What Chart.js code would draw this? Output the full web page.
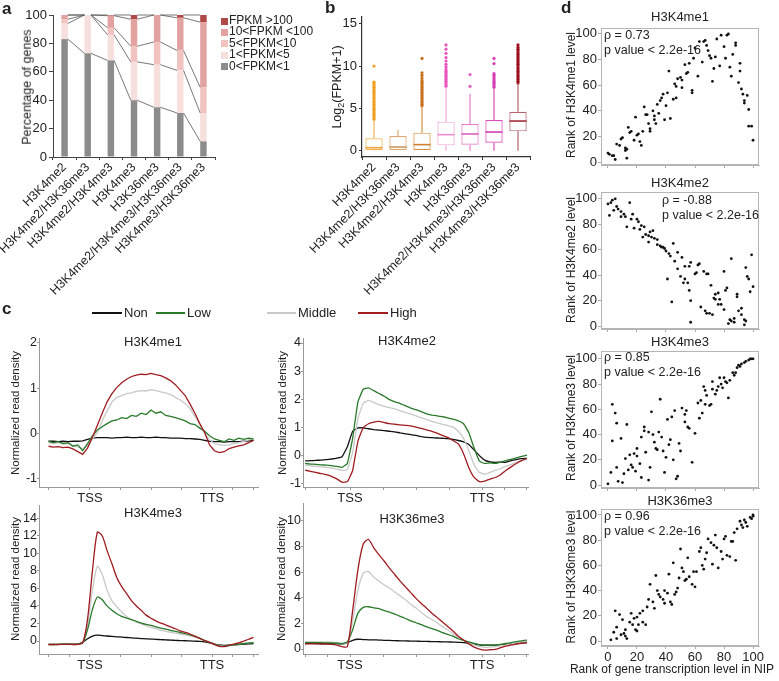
<!DOCTYPE html>
<html>
<head>
<meta charset="utf-8">
<script src="https://cdn.jsdelivr.net/npm/chart.js@4.4.0/dist/chart.umd.min.js"></script>
<style>
  html, body { margin: 0; padding: 0; background: #fff; }
  body { position: relative; width: 779px; height: 681px; overflow: hidden;
         font-family: "Liberation Sans", Arial, sans-serif; color: #222; }
  canvas { position: absolute; }
  .t { position: absolute; white-space: nowrap; line-height: 1.15; }
  .sw { position: absolute; }
</style>
</head>
<body>
<script>
// ---------- panel a : stacked percentage bars ----------
const aCategories = ['H3K4me2', 'H3K4me2/H3K36me3', 'H3K4me2/H3K4me3', 'H3K4me3', 'H3K36me3', 'H3K4me2/H3K4me3/H3K36me3', 'H3K4me3/H3K36me3'];
const aFpkm0to1 = [83, 73, 68, 40, 35, 31, 11];
const aFpkm1to5 = [11, 27, 18, 27, 30, 30, 20];
const aFpkm5to10 = [3, 0, 5, 11, 16, 14, 18];
const aFpkm10to100 = [3, 0, 8.5, 19, 19, 23, 46];
const aFpkmOver100 = [0, 0, 0.5, 3, 0, 2, 5];
const aSeriesNames = ['0<FPKM<1', '1<FPKM<5', '5<FPKM<10', '10<FPKM <100', 'FPKM >100'];
const aTicks = [0, 20, 40, 60, 80, 100];

// ---------- panel b : box plots of log2(FPKM+1) ----------
const bCategories = aCategories;
const bLower = [0, 0.08, 0.08, 0, 0, 0, 0];
const bQ1 = [0.05, 0.08, 0.08, 0.63, 0.71, 0.94, 2.28];
const bMedian = [0.35, 0.43, 0.71, 1.89, 1.97, 2.2, 3.5];
const bQ3 = [1.46, 1.73, 2.13, 3.43, 3.15, 3.62, 4.6];
const bUpper = [3.6, 2.44, 5.2, 7.5, 6.7, 7.4, 7.95];
const bOutliers = [
  [3.7, 3.9, 4.1, 4.3, 4.5, 4.7, 4.9, 5.1, 5.3, 5.5, 5.7, 5.9, 6.1, 6.3, 6.5, 6.7, 6.9, 7.1, 7.3, 7.5, 7.7, 7.9, 8.1, 10.0],
  [],
  [5.3, 5.5, 5.7, 5.9, 6.1, 6.3, 6.5, 6.7, 6.9, 7.1, 7.3, 7.5, 7.7, 7.9, 8.1, 8.3, 8.6, 8.9, 9.2, 10.9],
  [7.6, 7.8, 8.0, 8.2, 8.4, 8.6, 8.8, 9.0, 9.2, 9.4, 9.6, 9.9, 10.2, 10.6, 11.0, 11.5, 12.0, 12.5],
  [7.6, 9.0],
  [7.5, 7.7, 7.9, 8.1, 8.3, 8.5, 8.7, 8.9, 9.1, 10.3, 10.9],
  [8.0, 8.2, 8.4, 8.6, 8.8, 9.0, 9.2, 9.4, 9.6, 9.8, 10.0, 10.2, 10.4, 10.6, 10.8, 11.0, 11.2, 11.4, 11.6, 11.8, 12.0, 12.2, 12.5]
];
const bTicks = [0, 5, 10, 15];

// ---------- panel c : read density profiles ----------
const cSeriesNames = ['Non', 'Low', 'Middle', 'High'];
const cX = [-34, -30, -26, -22, -18, -14, -10, -6, -2, 2, 6, 10, 14, 18, 22, 26, 30, 34, 38, 42, 46, 50, 54, 58, 62, 66, 70, 74, 78, 82, 86, 90, 94, 98, 102, 106, 110, 114, 118, 122, 126, 130, 134];
const cXTicks = [-34, -17, 0, 25, 50, 75, 100, 117, 134];
const cXTickLabels = { 0: 'TSS', 100: 'TTS' };

const me1Non = [-0.17, -0.17, -0.18, -0.17, -0.18, -0.17, -0.17, -0.16, -0.13, -0.1, -0.09, -0.09, -0.09, -0.1, -0.09, -0.09, -0.08, -0.09, -0.09, -0.08, -0.09, -0.09, -0.08, -0.09, -0.09, -0.1, -0.1, -0.1, -0.11, -0.11, -0.12, -0.13, -0.15, -0.17, -0.18, -0.18, -0.19, -0.18, -0.18, -0.18, -0.17, -0.16, -0.15];
const me1Low = [-0.17, -0.2, -0.18, -0.22, -0.2, -0.28, -0.25, -0.38, -0.22, -0.05, 0.08, 0.15, 0.22, 0.28, 0.3, 0.35, 0.33, 0.4, 0.38, 0.45, 0.42, 0.52, 0.45, 0.48, 0.4, 0.38, 0.35, 0.32, 0.28, 0.22, 0.2, 0.12, 0.05, -0.05, -0.12, -0.15, -0.18, -0.12, -0.15, -0.1, -0.13, -0.1, -0.12];
const me1Middle = [-0.2, -0.22, -0.2, -0.23, -0.22, -0.26, -0.3, -0.33, -0.27, -0.12, 0.02, 0.28, 0.5, 0.7, 0.8, 0.84, 0.88, 0.9, 0.93, 0.95, 0.94, 0.97, 0.95, 0.92, 0.9, 0.86, 0.8, 0.74, 0.66, 0.55, 0.38, 0.2, 0.02, -0.14, -0.22, -0.25, -0.26, -0.25, -0.22, -0.2, -0.17, -0.14, -0.12];
const me1High = [-0.28, -0.3, -0.29, -0.31, -0.3, -0.34, -0.4, -0.46, -0.32, -0.08, 0.18, 0.45, 0.7, 0.88, 1.02, 1.12, 1.2, 1.26, 1.29, 1.31, 1.3, 1.33, 1.3, 1.28, 1.23, 1.17, 1.08, 0.96, 0.84, 0.65, 0.45, 0.22, 0.02, -0.25, -0.38, -0.42, -0.4, -0.33, -0.3, -0.27, -0.25, -0.2, -0.15];

const me2Non = [-0.21, -0.2, -0.19, -0.18, -0.16, -0.14, -0.11, -0.06, 0.3, 0.85, 0.97, 0.97, 0.94, 0.91, 0.89, 0.87, 0.85, 0.83, 0.79, 0.76, 0.73, 0.7, 0.66, 0.63, 0.62, 0.61, 0.6, 0.59, 0.56, 0.52, 0.47, 0.38, 0.18, -0.02, -0.18, -0.24, -0.26, -0.25, -0.26, -0.2, -0.16, -0.13, -0.12];
const me2Low = [-0.3, -0.32, -0.33, -0.35, -0.36, -0.38, -0.4, -0.44, -0.3, 0.6, 1.9, 2.35, 2.4, 2.3, 2.2, 2.1, 1.98, 1.9, 1.84, 1.76, 1.68, 1.62, 1.55, 1.47, 1.43, 1.4, 1.37, 1.33, 1.28, 1.22, 1.12, 0.8, 0.25, -0.22, -0.3, -0.28, -0.3, -0.25, -0.2, -0.15, -0.1, -0.05, 0.0];
const me2Middle = [-0.36, -0.38, -0.4, -0.42, -0.44, -0.46, -0.5, -0.55, -0.52, 0.1, 1.3, 1.85, 1.95, 1.88, 1.8, 1.74, 1.69, 1.65, 1.58, 1.52, 1.46, 1.4, 1.33, 1.27, 1.2, 1.15, 1.1, 1.05, 1.0, 0.85, 0.6, 0.15, -0.35, -0.62, -0.68, -0.62, -0.55, -0.48, -0.4, -0.33, -0.26, -0.2, -0.15];
const me2High = [-0.54, -0.58, -0.62, -0.66, -0.7, -0.76, -0.85, -0.97, -0.95, -0.55, 0.5, 0.98, 1.12, 1.18, 1.2, 1.16, 1.12, 1.1, 1.08, 1.06, 1.04, 1.0, 0.95, 0.9, 0.85, 0.78, 0.7, 0.63, 0.52, 0.4, 0.05, -0.45, -0.8, -0.95, -0.93, -0.86, -0.8, -0.7, -0.55, -0.42, -0.3, -0.2, -0.12];

const me3Non = [-0.38, -0.38, -0.38, -0.37, -0.37, -0.37, -0.35, -0.15, 0.25, 0.55, 0.66, 0.62, 0.57, 0.52, 0.48, 0.44, 0.4, 0.36, 0.32, 0.28, 0.25, 0.22, 0.19, 0.16, 0.13, 0.1, 0.07, 0.05, 0.03, 0.01, -0.02, -0.05, -0.1, -0.2, -0.35, -0.45, -0.5, -0.48, -0.45, -0.4, -0.35, -0.32, -0.3];
const me3Low = [-0.4, -0.4, -0.38, -0.35, -0.37, -0.38, -0.35, -0.2, 1.3, 3.6, 5.0, 4.7, 4.0, 3.5, 3.1, 2.8, 2.6, 2.45, 2.25, 2.05, 1.9, 1.78, 1.62, 1.48, 1.35, 1.22, 1.1, 0.97, 0.85, 0.7, 0.52, 0.3, 0.05, -0.15, -0.35, -0.55, -0.62, -0.5, -0.45, -0.35, -0.3, -0.25, -0.2];
const me3Middle = [-0.4, -0.4, -0.4, -0.38, -0.38, -0.4, -0.38, -0.2, 1.8, 5.8, 8.5, 7.6, 5.8, 4.6, 3.9, 3.3, 2.8, 2.45, 2.15, 1.95, 1.75, 1.55, 1.4, 1.25, 1.1, 1.0, 0.9, 0.8, 0.7, 0.58, 0.45, 0.28, 0.05, -0.15, -0.35, -0.5, -0.6, -0.55, -0.45, -0.35, -0.25, -0.2, -0.15];
const me3High = [-0.4, -0.4, -0.4, -0.38, -0.38, -0.4, -0.38, -0.2, 2.5, 8.0, 12.4, 12.0, 10.3, 8.8, 7.2, 6.2, 5.4, 4.6, 4.0, 3.5, 2.95, 2.6, 2.3, 2.05, 1.85, 1.6, 1.4, 1.15, 0.98, 0.8, 0.55, 0.3, 0.05, -0.15, -0.4, -0.6, -0.64, -0.5, -0.35, -0.2, 0.0, 0.2, 0.42];

const k36Non = [0.44, 0.44, 0.43, 0.43, 0.42, 0.42, 0.42, 0.4, 0.5, 0.68, 0.76, 0.74, 0.72, 0.71, 0.7, 0.68, 0.67, 0.65, 0.64, 0.63, 0.62, 0.61, 0.6, 0.59, 0.58, 0.57, 0.56, 0.55, 0.54, 0.52, 0.5, 0.45, 0.38, 0.31, 0.3, 0.3, 0.31, 0.33, 0.36, 0.4, 0.43, 0.46, 0.5];
const k36Low = [0.5, 0.5, 0.49, 0.49, 0.48, 0.47, 0.45, 0.42, 0.55, 1.5, 2.8, 3.25, 3.3, 3.22, 3.15, 3.0, 2.88, 2.72, 2.55, 2.38, 2.2, 2.05, 1.9, 1.72, 1.6, 1.45, 1.28, 1.15, 1.0, 0.8, 0.68, 0.55, 0.44, 0.35, 0.31, 0.31, 0.31, 0.36, 0.43, 0.5, 0.58, 0.64, 0.7];
const k36Middle = [0.58, 0.57, 0.56, 0.55, 0.55, 0.54, 0.52, 0.45, 0.5, 2.2, 4.6, 5.9, 6.05, 5.6, 5.3, 5.0, 4.75, 4.45, 4.15, 3.85, 3.5, 3.2, 2.85, 2.54, 2.3, 2.05, 1.75, 1.5, 1.2, 0.9, 0.7, 0.5, 0.33, 0.2, 0.13, 0.15, 0.18, 0.25, 0.33, 0.4, 0.48, 0.55, 0.6];
const k36High = [0.39, 0.4, 0.4, 0.39, 0.38, 0.36, 0.3, 0.18, 0.2, 3.0, 6.2, 8.2, 8.55, 7.9, 7.35, 6.85, 6.3, 5.8, 5.3, 4.85, 4.4, 3.95, 3.55, 3.19, 2.8, 2.45, 2.1, 1.75, 1.4, 1.0, 0.7, 0.4, 0.15, 0.0, -0.08, -0.06, -0.03, 0.1, 0.22, 0.3, 0.38, 0.45, 0.5];

// ---------- panel d : rank scatter plots ----------
const dTicks = [0, 20, 40, 60, 80, 100];
const d1X = [0, 1, 3, 4, 5, 6, 8, 9, 10, 12, 12, 13, 13, 14, 15, 16, 18, 19, 20, 21, 22, 23, 24, 25, 26, 27, 28, 29, 29, 31, 32, 32, 33, 34, 35, 36, 37, 38, 39, 40, 41, 42, 43, 45, 46, 47, 47, 48, 50, 51, 51, 53, 54, 55, 56, 58, 58, 59, 60, 62, 63, 65, 66, 67, 68, 69, 70, 71, 72, 73, 74, 75, 77, 78, 80, 81, 82, 83, 84, 85, 86, 88, 88, 90, 91, 91, 92, 93, 94, 94, 96, 97, 97, 99, 100];
const d1Y = [7, 6, 5, 5, 2, 14, 13, 18, 19, 11, 9, 10, 3, 27, 23, 24, 17, 35, 21, 22, 16, 13, 24, 43, 37, 37, 30, 26, 24, 40, 36, 33, 30, 45, 38, 48, 50, 53, 33, 44, 54, 71, 34, 49, 61, 59, 50, 65, 66, 58, 64, 76, 69, 70, 77, 56, 54, 81, 89, 67, 94, 78, 94, 95, 91, 87, 83, 81, 63, 73, 82, 96, 75, 99, 90, 81, 99, 100, 74, 67, 84, 91, 93, 62, 71, 77, 57, 53, 48, 46, 52, 41, 28, 28, 17];
const d2X = [0, 2, 3, 5, 1, 4, 6, 7, 9, 9, 11, 12, 13, 15, 16, 17, 18, 20, 21, 22, 23, 25, 24, 26, 28, 28, 29, 30, 31, 32, 34, 34, 36, 37, 38, 39, 40, 41, 42, 43, 44, 45, 46, 48, 48, 50, 51, 52, 53, 53, 55, 56, 57, 57, 56, 60, 61, 62, 63, 64, 66, 67, 68, 69, 68, 70, 71, 72, 73, 74, 74, 76, 76, 77, 78, 80, 80, 81, 82, 84, 85, 85, 87, 87, 89, 89, 90, 92, 92, 94, 94, 95, 96, 97, 98, 99, 100, 83, 57, 95];
const d2Y = [96, 97, 99, 100, 87, 91, 94, 92, 90, 86, 88, 86, 78, 97, 84, 88, 77, 84, 82, 76, 79, 78, 70, 72, 71, 66, 74, 70, 75, 69, 64, 68, 63, 62, 62, 61, 59, 37, 57, 55, 19, 65, 51, 45, 58, 39, 54, 34, 47, 37, 34, 28, 20, 50, 47, 41, 42, 48, 49, 15, 43, 12, 41, 41, 10, 10, 32, 9, 22, 25, 21, 26, 17, 21, 17, 43, 13, 28, 30, 5, 53, 4, 3, 6, 25, 23, 12, 14, 9, 5, 1, 46, 39, 37, 27, 56, 31, 2, 3, 4];
const d3X = [0, 2, 3, 5, 6, 3, 6, 7, 9, 10, 11, 12, 13, 14, 15, 16, 17, 18, 19, 20, 20, 22, 23, 23, 25, 25, 26, 28, 28, 29, 30, 31, 32, 33, 34, 35, 36, 37, 38, 39, 40, 41, 42, 43, 44, 45, 46, 47, 48, 49, 50, 51, 53, 53, 54, 55, 56, 58, 60, 62, 63, 64, 65, 66, 67, 67, 68, 70, 71, 72, 72, 74, 75, 76, 77, 78, 79, 80, 81, 82, 83, 84, 86, 87, 88, 89, 90, 91, 92, 94, 95, 97, 98, 99, 100];
const d3Y = [1, 10, 64, 57, 49, 35, 14, 3, 37, 2, 9, 21, 48, 12, 24, 16, 14, 25, 11, 29, 23, 17, 6, 38, 43, 46, 26, 4, 42, 14, 58, 40, 34, 29, 28, 42, 68, 38, 27, 10, 22, 52, 32, 36, 54, 20, 59, 5, 7, 33, 27, 61, 50, 56, 59, 46, 45, 18, 41, 65, 53, 67, 57, 78, 64, 75, 71, 63, 64, 82, 76, 72, 75, 78, 85, 80, 77, 85, 82, 81, 69, 83, 89, 87, 89, 93, 95, 94, 96, 97, 98, 99, 100, 100, 100];
const d4X = [2, 4, 5, 6, 6, 8, 9, 10, 11, 12, 12, 13, 15, 16, 17, 18, 19, 20, 20, 21, 22, 24, 24, 26, 27, 28, 29, 31, 32, 33, 34, 35, 36, 38, 39, 39, 41, 42, 43, 44, 45, 46, 47, 48, 49, 50, 51, 52, 53, 54, 55, 56, 58, 59, 60, 61, 63, 64, 65, 66, 67, 68, 69, 71, 72, 73, 74, 75, 76, 78, 79, 80, 81, 82, 84, 85, 86, 87, 88, 89, 91, 92, 93, 94, 95, 96, 98, 99, 100, 100];
const d4Y = [1, 7, 24, 11, 2, 21, 5, 17, 6, 4, 9, 2, 15, 22, 13, 18, 9, 8, 19, 13, 22, 15, 24, 13, 27, 33, 45, 31, 26, 52, 40, 37, 35, 33, 30, 40, 38, 53, 31, 29, 62, 37, 39, 42, 50, 73, 58, 55, 48, 49, 66, 51, 45, 55, 43, 55, 71, 74, 60, 57, 65, 70, 81, 78, 61, 76, 84, 74, 58, 71, 65, 81, 83, 68, 67, 79, 79, 86, 64, 89, 95, 92, 90, 96, 94, 91, 98, 97, 100, 99];

// ---------- colours ----------
const aColors = ['#8c8c8c', '#f7dfdd', '#f0c3c1', '#e2a2a0', '#b04a48'];
const bBoxColors = ['#f2b457', '#d9a870', '#d9913f', '#f2a9d8', '#e57fcb', '#d84fb8', '#b4646e'];
const bMedianColors = ['#eea238', '#cf9a5c', '#cf8030', '#ee8fcc', '#de5fbf', '#d23fb0', '#a02c3c'];
const bOutlierColors = ['#f0a020', '#d9a870', '#c8711f', '#ea55bd', '#e060c0', '#d43fb4', '#9c0f1e'];
const cColors = ['#111111', '#2a7a2a', '#c9c9c9', '#a01c20'];

Chart.defaults.font.family = '"Liberation Sans", Arial, sans-serif';
Chart.defaults.font.size = 12;
Chart.defaults.color = '#222';
Chart.defaults.animation = false;
Chart.defaults.plugins.legend.display = false;
Chart.defaults.plugins.tooltip.enabled = false;

// canvas whose plot area lands exactly on rect (page px)
// pad.l = y axis width, pad.e = extra room left of the axis, pad.b = x axis height
function makeCanvas(rect, pad) {
    const e = pad.e || 0;
    const c = document.createElement('canvas');
    c.width = rect.r - rect.l + pad.l + pad.r + e;
    c.height = rect.b - rect.t + pad.t + pad.b;
    c.style.left = (rect.l - pad.l - e) + 'px';
    c.style.top = (rect.t - pad.t) + 'px';
    document.body.appendChild(c);
    return c;
}
function layoutPad(pad) {
    return { padding: { top: pad.t, right: pad.r, left: pad.e || 0, bottom: 0 } };
}
function fixSize(size, horizontal) {
    return function (scale) {
        if (horizontal) scale.height = size; else scale.width = size;
        scale.paddingLeft = 0; scale.paddingRight = 0;
        scale.paddingTop = 0; scale.paddingBottom = 0;
    };
}
function setTicks(values) {
    return function (scale) { scale.ticks = values.map(v => ({ value: v })); };
}
function addText(txt, x, y, o = {}) {
    const d = document.createElement('div');
    d.className = 't';
    if (o.html) d.innerHTML = txt; else d.textContent = txt;
    d.style.left = x + 'px';
    d.style.top = y + 'px';
    d.style.fontSize = (o.size || 12) + 'px';
    if (o.bold) d.style.fontWeight = 'bold';
    if (o.color) d.style.color = o.color;
    const ax = o.align === 'l' ? '0' : (o.align === 'r' ? '-100%' : '-50%');
    d.style.transform = 'translate(' + ax + ',-50%)' + (o.rot ? ' rotate(' + o.rot + 'deg)' : '');
    document.body.appendChild(d);
    return d;
}
function addBox(x, y, w, h, color) {
    const d = document.createElement('div');
    d.className = 'sw';
    d.style.left = x + 'px'; d.style.top = y + 'px';
    d.style.width = w + 'px'; d.style.height = h + 'px';
    d.style.background = color;
    document.body.appendChild(d);
}

// ---------- panel a ----------
const connectorPlugin = {
    id: 'connectors',
    afterDatasetsDraw(chart) {
        const ctx = chart.ctx;
        ctx.save();
        ctx.strokeStyle = '#555';
        ctx.lineWidth = 0.8;
        chart.data.datasets.forEach((ds, k) => {
            const bars = chart.getDatasetMeta(k).data;
            for (let i = 0; i < bars.length - 1; i++) {
                const p = bars[i], q = bars[i + 1];
                ctx.beginPath();
                ctx.moveTo(p.x + p.width / 2, p.y);
                ctx.lineTo(q.x - q.width / 2, q.y);
                ctx.stroke();
            }
        });
        ctx.restore();
    }
};

(function () {
    const rect = { l: 53, t: 15, r: 215, b: 157 };
    const pad = { l: 53, t: 15, r: 10, b: 140 };
    const canvas = makeCanvas(rect, pad);
    const series = [aFpkm0to1, aFpkm1to5, aFpkm5to10, aFpkm10to100, aFpkmOver100];
    new Chart(canvas, {
        type: 'bar',
        data: {
            labels: aCategories,
            datasets: series.map((vals, k) => ({
                label: aSeriesNames[k],
                data: vals,
                backgroundColor: aColors[k],
                borderWidth: 0,
                barPercentage: 0.28,
                categoryPercentage: 1
            }))
        },
        options: {
            responsive: false,
            devicePixelRatio: 1,
            layout: layoutPad(pad),
            scales: {
                x: {
                    stacked: true,
                    afterFit: fixSize(pad.b, true),
                    grid: { drawOnChartArea: false, tickLength: 3, color: '#444' },
                    border: { color: '#444' },
                    ticks: { minRotation: 45, maxRotation: 45, autoSkip: false, padding: 0, font: { size: 12.5 } }
                },
                y: {
                    stacked: true,
                    min: 0, max: 100,
                    afterFit: fixSize(pad.l, false),
                    afterBuildTicks: setTicks(aTicks),
                    grid: { drawOnChartArea: false, tickLength: 4, color: '#444' },
                    border: { color: '#444' },
                    ticks: { padding: 2, font: { size: 13 } }
                }
            }
        },
        plugins: [connectorPlugin]
    });
    addText('Percentage of genes', 27, 87, { size: 12.5, rot: -90 });
    // legend, top item first
    for (let k = aSeriesNames.length - 1, row = 0; k >= 0; k--, row++) {
        const y = 21 + row * 11.4;
        addBox(221, y - 3.5, 7, 7, aColors[k]);
        addText(aSeriesNames[k], 229, y, { size: 12, align: 'l' });
    }
})();

// ---------- panel b ----------
const boxPlugin = {
    id: 'boxParts',
    afterDatasetsDraw(chart) {
        const ctx = chart.ctx, ys = chart.scales.y;
        const boxes = chart.getDatasetMeta(0).data;
        ctx.save();
        boxes.forEach((el, i) => {
            const half = el.width / 2;
            ctx.strokeStyle = bBoxColors[i];
            ctx.lineWidth = 1.2;
            ctx.beginPath();
            ctx.moveTo(el.x, ys.getPixelForValue(bQ3[i]));
            ctx.lineTo(el.x, ys.getPixelForValue(bUpper[i]));
            ctx.moveTo(el.x, ys.getPixelForValue(bQ1[i]));
            ctx.lineTo(el.x, ys.getPixelForValue(bLower[i]));
            ctx.stroke();
            ctx.strokeStyle = bMedianColors[i];
            ctx.lineWidth = 1.6;
            ctx.beginPath();
            ctx.moveTo(el.x - half, ys.getPixelForValue(bMedian[i]));
            ctx.lineTo(el.x + half, ys.getPixelForValue(bMedian[i]));
            ctx.stroke();
        });
        ctx.restore();
    }
};

(function () {
    const rect = { l: 362, t: 17, r: 530, b: 157 };
    const pad = { l: 30, e: 75, t: 17, r: 8, b: 140 };
    const canvas = makeCanvas(rect, pad);
    const outlierPoints = [], outlierColors = [];
    bOutliers.forEach((vals, i) => vals.forEach(v => {
        outlierPoints.push({ x: bCategories[i], y: v });
        outlierColors.push(bOutlierColors[i]);
    }));
    new Chart(canvas, {
        type: 'bar',
        data: {
            labels: bCategories,
            datasets: [{
                data: bQ1.map((q, i) => [q, bQ3[i]]),
                backgroundColor: '#ffffff',
                borderColor: bBoxColors,
                borderWidth: 1.2,
                borderSkipped: false,
                barPercentage: 0.72,
                categoryPercentage: 1,
                order: 1
            }, {
                type: 'line',
                data: outlierPoints,
                showLine: false,
                pointRadius: 1.6,
                pointBorderWidth: 0,
                pointBackgroundColor: outlierColors,
                order: 0
            }]
        },
        options: {
            responsive: false,
            devicePixelRatio: 1,
            layout: layoutPad(pad),
            scales: {
                x: {
                    afterFit: fixSize(pad.b, true),
                    grid: { drawOnChartArea: false, tickLength: 3, color: '#333' },
                    border: { color: '#333', width: 1.2 },
                    ticks: { minRotation: 45, maxRotation: 45, autoSkip: false, padding: 0, font: { size: 12.5 } }
                },
                y: {
                    min: -0.75, max: 15.8,
                    afterFit: fixSize(pad.l, false),
                    afterBuildTicks: setTicks(bTicks),
                    grid: { drawOnChartArea: false, tickLength: 3, color: '#333' },
                    border: { color: '#333', width: 1.2 },
                    ticks: { padding: 2, font: { size: 13 } }
                }
            }
        },
        plugins: [boxPlugin]
    });
    addText('Log<sub style="font-size:9px">2</sub>(FPKM+1)', 338, 87, { size: 12.5, rot: -90, html: true });
})();

// ---------- panel c ----------
function profileChart(rect, xMin, xMax, yMin, yMax, yTicks, series, tension) {
    const pad = { l: 26, t: 4, r: 8, b: 26 };
    const canvas = makeCanvas(rect, pad);
    const order = [3, 1, 2, 0];
    new Chart(canvas, {
        type: 'line',
        data: {
            datasets: series.map((vals, k) => ({
                label: cSeriesNames[k],
                data: vals.map((v, i) => ({ x: cX[i], y: v })),
                borderColor: cColors[k],
                borderWidth: 1.3,
                pointRadius: 0,
                tension: tension,
                order: order[k]
            }))
        },
        options: {
            responsive: false,
            devicePixelRatio: 1,
            layout: layoutPad(pad),
            scales: {
                x: {
                    type: 'linear',
                    min: xMin, max: xMax,
                    afterFit: fixSize(pad.b, true),
                    afterBuildTicks: setTicks(cXTicks),
                    grid: { drawOnChartArea: false, tickLength: 3, color: '#999' },
                    border: { color: '#999' },
                    ticks: {
                        padding: 1, font: { size: 13 }, maxRotation: 0, autoSkip: false,
                        callback: v => cXTickLabels[v] || ''
                    }
                },
                y: {
                    min: yMin, max: yMax,
                    afterFit: fixSize(pad.l, false),
                    afterBuildTicks: setTicks(yTicks),
                    grid: { drawOnChartArea: false, tickLength: 2, color: '#999' },
                    border: { color: '#999' },
                    ticks: { padding: 0, font: { size: 12.5 } }
                }
            }
        }
    });
}

profileChart({ l: 39, t: 338, r: 258, b: 487 }, -41.8, 137.7, -1.18, 2.11, [-1, 0, 1, 2],
    [me1Non, me1Low, me1Middle, me1High], 0);
profileChart({ l: 303, t: 338, r: 528, b: 487 }, -35.6, 134.8, -1.14, 4.18, [-1, 0, 1, 2, 3, 4],
    [me2Non, me2Low, me2Middle, me2High], 0.1);
profileChart({ l: 39, t: 505, r: 258, b: 654 }, -41.8, 137.7, -1.48, 15.5, [0, 2, 4, 6, 8, 10, 12, 14],
    [me3Non, me3Low, me3Middle, me3High], 0.25);
profileChart({ l: 303, t: 503, r: 528, b: 654 }, -35.6, 134.8, -0.39, 11.4, [0, 2, 4, 6, 8, 10],
    [k36Non, k36Low, k36Middle, k36High], 0.25);

addText('H3K4me1', 153, 342, { size: 13 });
addText('H3K4me2', 407, 341, { size: 13 });
addText('H3K4me3', 153, 513, { size: 13 });
addText('H3K36me3', 412, 519, { size: 13 });
addText('Normalized read density', 16, 413, { size: 11.5, rot: -90 });
addText('Normalized read density', 283, 413, { size: 11.5, rot: -90 });
addText('Normalized read density', 16, 579, { size: 11.5, rot: -90 });
addText('Normalized read density', 282, 579, { size: 11.5, rot: -90 });

// c legend
const cLegendX = [[92, 122], [156, 185], [267, 296], [358, 388]];
cSeriesNames.forEach((name, k) => {
    const [x0, x1] = cLegendX[k];
    addBox(x0, 312, x1 - x0, 2, cColors[k]);
    addText(name, x1 + 2, 313, { size: 13, align: 'l' });
});

// ---------- panel d ----------
const framePlugin = {
    id: 'frame',
    afterDraw(chart) {
        const { left, top, right, bottom } = chart.chartArea;
        const ctx = chart.ctx;
        ctx.save();
        ctx.strokeStyle = '#b5b5b5';
        ctx.lineWidth = 1;
        ctx.strokeRect(left + 0.5, top + 0.5, right - left - 1, bottom - top - 1);
        ctx.restore();
    }
};

function rankChart(rect, yMin, yMax, xs, ys, showXLabels) {
    const pad = { l: 30, t: 2, r: 6, b: 22 };
    const canvas = makeCanvas(rect, pad);
    new Chart(canvas, {
        type: 'scatter',
        data: {
            datasets: [{
                data: xs.map((x, i) => ({ x: x, y: ys[i] })),
                pointRadius: 1.4,
                pointBorderWidth: 0,
                pointBackgroundColor: '#111'
            }]
        },
        options: {
            responsive: false,
            devicePixelRatio: 1,
            layout: layoutPad(pad),
            scales: {
                x: {
                    min: -4.8, max: 104.1,
                    afterFit: fixSize(pad.b, true),
                    afterBuildTicks: setTicks(dTicks),
                    grid: { drawOnChartArea: false, tickLength: 3, color: '#aaa' },
                    border: { color: '#b5b5b5' },
                    ticks: { padding: 1, font: { size: 13 }, callback: v => showXLabels ? v : '' }
                },
                y: {
                    min: yMin, max: yMax,
                    afterFit: fixSize(pad.l, false),
                    afterBuildTicks: setTicks(dTicks),
                    grid: { drawOnChartArea: false, tickLength: 3, color: '#aaa' },
                    border: { color: '#b5b5b5' },
                    ticks: { padding: 1, font: { size: 13 } }
                }
            }
        },
        plugins: [framePlugin]
    });
}

rankChart({ l: 601, t: 26, r: 759, b: 165 }, -2.3, 104.6, d1X, d1Y, false);
rankChart({ l: 601, t: 190, r: 759, b: 329 }, -2.3, 105.4, d2X, d2Y, false);
rankChart({ l: 601, t: 349, r: 759, b: 488 }, -2.3, 106.2, d3X, d3Y, false);
rankChart({ l: 601, t: 507, r: 759, b: 646 }, -3.9, 104.7, d4X, d4Y, true);

addText('H3K4me1', 680, 17, { size: 13 });
addText('H3K4me2', 680, 183, { size: 13 });
addText('H3K4me3', 680, 342, { size: 13 });
addText('H3K36me3', 680, 501, { size: 13 });
addText('ρ = 0.73', 604, 35, { size: 12.5, align: 'l' });
addText('p value < 2.2e-16', 604, 50, { size: 12.5, align: 'l' });
addText('ρ = -0.88', 662, 200, { size: 12.5, align: 'l' });
addText('p value < 2.2e-16', 662, 215, { size: 12.5, align: 'l' });
addText('ρ = 0.85', 604, 357, { size: 12.5, align: 'l' });
addText('p value < 2.2e-16', 604, 372, { size: 12.5, align: 'l' });
addText('ρ = 0.96', 604, 516, { size: 12.5, align: 'l' });
addText('p value < 2.2e-16', 604, 531, { size: 12.5, align: 'l' });
addText('Rank of H3K4me1 level', 572, 95, { size: 12, rot: -90 });
addText('Rank of H3K4me2 level', 572, 260, { size: 12, rot: -90 });
addText('Rank of H3K4me3 level', 572, 418, { size: 12, rot: -90 });
addText('Rank of H3K36me3 level', 572, 577, { size: 12, rot: -90 });
addText('Rank of gene transcription level in NIP', 672, 670, { size: 12 });

// panel letters
addText('a', 2, 9, { size: 17, bold: true, align: 'l' });
addText('b', 325, 8, { size: 17, bold: true, align: 'l' });
addText('c', 2, 309, { size: 17, bold: true, align: 'l' });
addText('d', 561, 8, { size: 17, bold: true, align: 'l' });
</script>
</body>
</html>
